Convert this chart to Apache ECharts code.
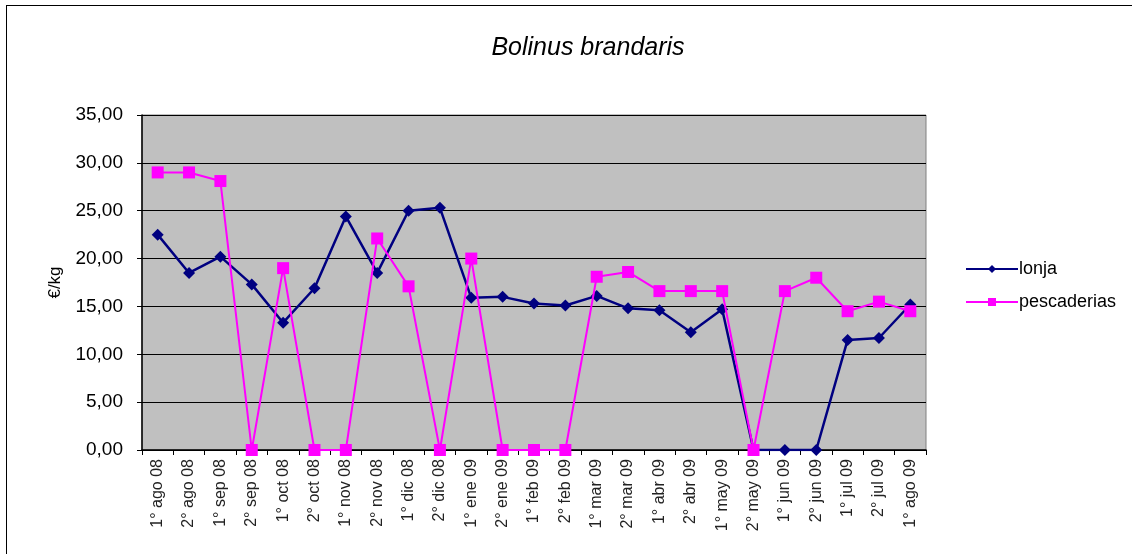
<!DOCTYPE html>
<html>
<head>
<meta charset="utf-8">
<script src="https://cdn.jsdelivr.net/npm/echarts@6/dist/echarts.min.js"></script>
<style>
  html, body { margin: 0; padding: 0; background: #fff; }
  #frame { position: absolute; left: 6px; top: 5px; width: 1200px; height: 600px; border-left: 1px solid #000; border-top: 1px solid #000; }
  #chart { position: absolute; left: 0; top: 0; width: 1132px; height: 554px; }
</style>
</head>
<body>
<div id="frame"></div>
<div id="chart"></div>
<script>
// periods (quincenas)
const categories = [
  '1° ago 08', '2° ago 08', '1° sep 08', '2° sep 08', '1° oct 08', '2° oct 08',
  '1° nov 08', '2° nov 08', '1° dic 08', '2° dic 08', '1° ene 09', '2° ene 09',
  '1° feb 09', '2° feb 09', '1° mar 09', '2° mar 09', '1° abr 09', '2° abr 09',
  '1° may 09', '2° may 09', '1° jun 09', '2° jun 09', '1° jul 09', '2° jul 09',
  '1° ago 09'
];

const lonja = [
  22.5, 18.5, 20.2, 17.3, 13.3, 16.9, 24.4, 18.5, 25.0, 25.3, 15.9, 16.0,
  15.3, 15.1, 16.1, 14.8, 14.6, 12.3, 14.7, 0, 0, 0, 11.5, 11.7, 15.2
];

const pescaderias = [
  29.0, 29.0, 28.1, 0, 19.0, 0, 0, 22.1, 17.1, 0, 20.0, 0,
  0, 0, 18.1, 18.6, 16.6, 16.6, 16.6, 0, 16.6, 18.0, 14.5, 15.5, 14.5
];

const yTicks = [0, 5, 10, 15, 20, 25, 30, 35];

const chart = echarts.init(document.getElementById('chart'));
chart.setOption({
  animation: false,
  textStyle: { fontFamily: 'Liberation Sans, Arial, sans-serif' },
  title: {
    text: 'Bolinus brandaris',
    left: 583,
    top: 31,
    textAlign: 'center',
    textStyle: { fontSize: 25, fontStyle: 'italic', fontWeight: 'normal', color: '#000' }
  },
  legend: {
    orient: 'vertical',
    left: 960,
    top: 255,
    itemWidth: 52,
    itemHeight: 10,
    itemGap: 15,
    textStyle: { fontSize: 18, color: '#000', padding: [0, 0, 0, -4] },
    data: ['lonja', 'pescaderias']
  },
  grid: { left: 142, right: 206, top: 115, bottom: 104, show: true, backgroundColor: '#c0c0c0', borderColor: '#808080', borderWidth: 1 },
  xAxis: {
    type: 'category',
    data: categories,
    boundaryGap: true,
    axisLine: { lineStyle: { color: '#000', width: 1.5 } },
    axisTick: { show: true, inside: false, length: 5, lineStyle: { color: '#000' } },
    axisLabel: { rotate: 90, fontSize: 16, color: '#222', margin: 9, interval: 0 }
  },
  yAxis: {
    type: 'value',
    min: yTicks[0],
    max: yTicks[yTicks.length - 1],
    interval: 5,
    name: '€/kg',
    nameLocation: 'middle',
    nameGap: 78,
    nameRotate: 90,
    nameTextStyle: { fontSize: 17, color: '#000' },
    axisLine: { show: true, lineStyle: { color: '#000', width: 1.5 } },
    axisTick: { show: true, length: 5, lineStyle: { color: '#000' } },
    splitLine: { lineStyle: { color: '#000', width: 1 } },
    axisLabel: {
      fontSize: 19, color: '#000', margin: 19,
      formatter: v => v.toFixed(2).replace('.', ',')
    }
  },
  series: [
    {
      name: 'lonja',
      type: 'line',
      data: lonja,
      symbol: 'diamond',
      symbolSize: 12,
      itemStyle: { color: '#000080' },
      lineStyle: { color: '#000080', width: 2.5 },
      z: 3
    },
    {
      name: 'pescaderias',
      type: 'line',
      data: pescaderias,
      symbol: 'rect',
      symbolSize: 12,
      itemStyle: { color: '#ff00ff' },
      lineStyle: { color: '#ff00ff', width: 2 },
      z: 4
    }
  ]
});
</script>
</body>
</html>
